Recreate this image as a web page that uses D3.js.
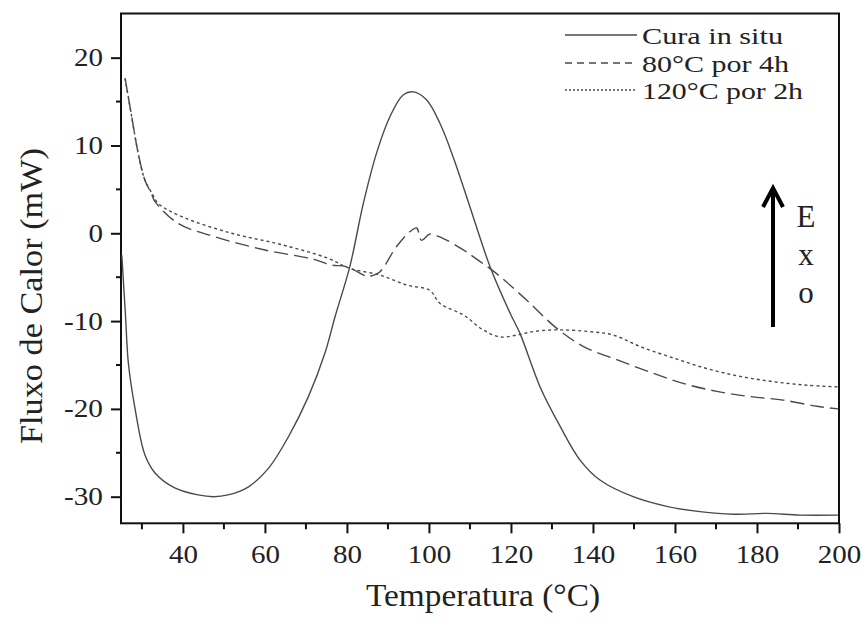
<!DOCTYPE html>
<html><head><meta charset="utf-8">
<script src="https://cdn.jsdelivr.net/npm/d3@7"></script>
<style>body{margin:0;background:#fff}svg{display:block}</style>
</head><body>
<svg id="c" width="863" height="623"></svg>
<script>
// ---- data ----
const seriesNames = ["Cura in situ", "80°C por 4h", "120°C por 2h"];
const curaT = [25.1,26.0,26.7,28.3,30.7,33.2,38.0,43.7,47.5,51.0,55.9,60.8,65.7,70.6,74.6,77.1,80.7,84.0,87.2,90.5,93.7,96.2,99.4,102.7,105.9,110.0,114.9,119.8,122.2,127.1,132.0,136.8,141.7,149.8,158.0,166.1,174.2,182.4,190.5,199.8];
const curaV = [-2.5,-9.4,-14.8,-19.9,-25.2,-27.3,-29.0,-29.8,-30.0,-29.8,-28.9,-26.8,-23.2,-18.6,-13.7,-9.5,-3.8,3.4,9.1,13.3,15.75,16.1,15.2,12.5,8.7,3.0,-3.8,-9.1,-11.4,-17.5,-22.0,-25.8,-28.1,-30.0,-31.1,-31.7,-32.0,-31.9,-32.1,-32.1];
const t80T = [25.9,27.5,29.1,30.7,32.4,33.2,38.9,47.8,60.0,72.2,75.9,79.9,84.8,85.6,88.0,92.1,95.4,97.0,98.2,100.2,103.5,108.4,112.4,116.5,123.8,131.1,137.7,145.8,153.9,162.0,170.2,178.3,186.4,194.6,199.8];
const t80V = [17.65,13.3,9.1,6.1,4.4,3.6,1.1,-0.4,-1.9,-3.0,-3.6,-3.8,-4.9,-4.9,-4.4,-1.5,0.2,0.6,-0.8,-0.1,-0.6,-1.9,-3.2,-4.6,-7.6,-10.8,-12.9,-14.4,-15.8,-17.1,-18.0,-18.6,-19.0,-19.7,-20.0];
const t120T = [25.9,27.5,29.1,30.7,32.4,34.0,39.7,51.9,64.1,75.4,80.7,88.0,94.6,100.2,102.7,108.4,113.2,117.3,121.4,125.4,131.1,139.3,145.0,151.5,159.6,167.7,175.9,184.0,192.1,199.8];
const t120V = [17.65,13.3,9.1,6.1,4.6,3.4,1.9,0.0,-1.3,-2.85,-4.0,-4.75,-5.9,-6.5,-8.0,-9.3,-11.0,-11.8,-11.6,-11.2,-11.0,-11.2,-11.6,-12.9,-14.2,-15.4,-16.3,-16.9,-17.3,-17.5];
const xTicks = [40,60,80,100,120,140,160,180,200];
const yTicks = [-30,-20,-10,0,10,20];
const xTitle = "Temperatura (°C)";
const yTitle = "Fluxo de Calor (mW)";
const exoLetters = ["E","x","o"];

// ---- layout ----
const L = 121, R = 839, T = 13.5, B = 523.3;
const svg = d3.select("#c");
const x = d3.scaleLinear().domain([24.9, 200]).range([L, R]);
const y = d3.scaleLinear().domain([-33.03, 25.03]).range([B, T]);
const font = "'Liberation Serif','Times New Roman',serif";
const lineCol = "#4a4a4a";

// frame
svg.append("rect").attr("x", L).attr("y", T).attr("width", R - L).attr("height", B - T)
  .attr("fill", "none").attr("stroke", "#111").attr("stroke-width", 2);

// x axis
const xMinor = d3.range(30, 200, 20);
const gx = svg.append("g").attr("transform", `translate(0,${B})`);
gx.call(d3.axisBottom(x).tickValues(xTicks).tickSize(10).tickPadding(12).tickFormat(d => String(d)));
gx.call(g => g.select(".domain").remove());
gx.selectAll(".tick line").attr("stroke", "#111").attr("stroke-width", 2);
gx.selectAll("text").attr("font-family", font).attr("font-size", 25).attr("fill", "#222")
  .attr("textLength", d => String(d).length * 14.5).attr("lengthAdjust", "spacingAndGlyphs");
gx.selectAll(".minor").data(xMinor).enter().append("line")
  .attr("x1", d => x(d)).attr("x2", d => x(d)).attr("y1", 0).attr("y2", 6)
  .attr("stroke", "#111").attr("stroke-width", 2);

// y axis
const yMinor = d3.range(-25, 25, 10);
const gy = svg.append("g").attr("transform", `translate(${L},0)`);
gy.call(d3.axisLeft(y).tickValues(yTicks).tickSize(10).tickPadding(8).tickFormat(d => String(d)));
gy.call(g => g.select(".domain").remove());
gy.selectAll(".tick line").attr("stroke", "#111").attr("stroke-width", 2);
gy.selectAll("text").attr("font-family", font).attr("font-size", 25).attr("fill", "#222")
  .attr("textLength", d => d < 0 ? 39 : String(d).length * 14.5).attr("lengthAdjust", "spacingAndGlyphs");
gy.selectAll(".minor").data(yMinor).enter().append("line")
  .attr("y1", d => y(d)).attr("y2", d => y(d)).attr("x1", 0).attr("x2", -5)
  .attr("stroke", "#111").attr("stroke-width", 2);

// titles
svg.append("text").attr("x", 483).attr("y", 606).attr("text-anchor", "middle")
  .attr("font-family", font).attr("font-size", 32).attr("fill", "#222")
  .attr("textLength", 234).attr("lengthAdjust", "spacingAndGlyphs").text(xTitle);
svg.append("text").attr("transform", "translate(42,296) rotate(-90)").attr("text-anchor", "middle")
  .attr("font-family", font).attr("font-size", 32).attr("fill", "#222")
  .attr("textLength", 296).attr("lengthAdjust", "spacingAndGlyphs").text(yTitle);

// curves
const line = d3.line().x(d => x(d[0])).y(d => y(d[1])).curve(d3.curveCatmullRom.alpha(0.5));
const series = [
  {T: curaT, V: curaV, dash: null, ldash: null},
  {T: t80T, V: t80V, dash: "14,6", ldash: "7,5"},
  {T: t120T, V: t120V, dash: "3,3", ldash: "2,2"}
];
series.forEach(s => {
  svg.append("path").datum(s.T.map((t, i) => [t, s.V[i]]))
    .attr("d", line).attr("fill", "none").attr("stroke", lineCol).attr("stroke-width", 1.4)
    .attr("stroke-dasharray", s.dash);
});

// legend
const legY = [35, 63, 90], legBase = [44, 72, 99], legW = [141, 147, 161];
seriesNames.forEach((n, i) => {
  svg.append("line").attr("x1", 565).attr("x2", 637).attr("y1", legY[i]).attr("y2", legY[i])
    .attr("stroke", lineCol).attr("stroke-width", 1.3).attr("stroke-dasharray", series[i].ldash);
  svg.append("text").attr("x", 642).attr("y", legBase[i]).attr("font-family", font)
    .attr("font-size", 24).attr("fill", "#222")
    .attr("textLength", legW[i]).attr("lengthAdjust", "spacingAndGlyphs").text(n);
});

// Exo arrow
svg.append("line").attr("x1", 773).attr("x2", 773).attr("y1", 190).attr("y2", 327)
  .attr("stroke", "#000").attr("stroke-width", 4);
svg.append("path").attr("d", "M763,207 L773,188 L783,207").attr("fill", "none")
  .attr("stroke", "#000").attr("stroke-width", 4).attr("stroke-linejoin", "miter");
const exoBase = [227, 265, 303];
exoLetters.forEach((l, i) => {
  svg.append("text").attr("x", 806).attr("y", exoBase[i]).attr("text-anchor", "middle")
    .attr("font-family", font).attr("font-size", 31).attr("fill", "#222").text(l);
});
</script>
</body></html>
